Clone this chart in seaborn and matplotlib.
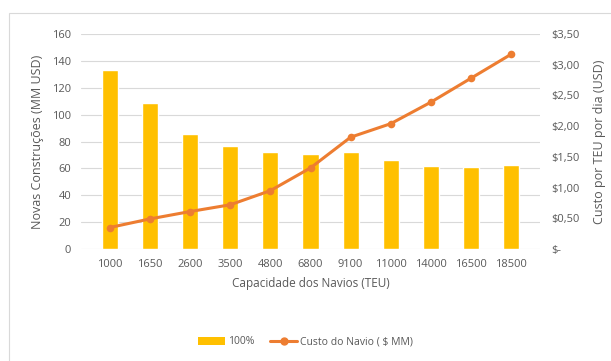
import numpy as np
import pandas as pd
import matplotlib.pyplot as plt
import seaborn as sns
from matplotlib.ticker import FuncFormatter, MultipleLocator
from matplotlib.lines import Line2D
from matplotlib.patches import Patch, Rectangle

# data
capacidade = ['1000', '1650', '2600', '3500', '4800', '6800',
              '9100', '11000', '14000', '16500', '18500']
novas_construcoes = [133.5, 108.5, 85.5, 76.5, 72, 70.5, 72.5, 66.5, 62, 60.8, 62.5]
custo_navio = [0.35, 0.49, 0.61, 0.72, 0.95, 1.32, 1.82, 2.04, 2.39, 2.78, 3.17]

df = pd.DataFrame({'cap': capacidade, 'novas': novas_construcoes, 'custo': custo_navio})

sns.set_style('white')
plt.rcParams['font.family'] = ['Open Sans', 'DejaVu Sans']
gray = '#595959'
bar_color = '#FFC000'
line_color = '#ED7D31'

fig = plt.figure(figsize=(6.11, 3.61), dpi=100)
ax = fig.add_axes([81 / 611, 1 - 249 / 361, 459 / 611, 215 / 361])

sns.barplot(data=df, x='cap', y='novas', color=bar_color, width=0.4,
            saturation=1, ax=ax)
ax.set_ylim(0, 160)
ax.yaxis.set_major_locator(MultipleLocator(20))
ax.grid(axis='y', color='#d9d9d9', linewidth=0.8)
ax.set_axisbelow(True)
for s in ax.spines.values():
    s.set_visible(False)
ax.tick_params(axis='both', colors=gray, labelsize=8, length=0, pad=7)
ax.set_xlabel('Capacidade dos Navios (TEU)', color=gray, fontsize=8.5, labelpad=5)
ax.set_ylabel('Novas Construções (MM USD)', color=gray, fontsize=9, labelpad=6)

ax2 = ax.twinx()
sns.lineplot(data=df, x='cap', y='custo', color=line_color, marker='o',
             markersize=5.5, linewidth=2.2, markeredgewidth=0, ax=ax2)
ax2.set_ylim(0, 3.5)
ax2.yaxis.set_major_locator(MultipleLocator(0.5))
ax2.yaxis.set_major_formatter(FuncFormatter(
    lambda v, p: '$-' if v == 0 else '$' + f'{v:.2f}'.replace('.', ',')))
for s in ax2.spines.values():
    s.set_visible(False)
ax2.tick_params(axis='y', colors=gray, labelsize=8, length=0, pad=8)
ax2.set_ylabel('Custo por TEU por dia (USD)', color=gray, fontsize=9, labelpad=10)
ax2.grid(False)

handles = [Patch(facecolor=bar_color, edgecolor='none'),
           Line2D([0], [0], color=line_color, linewidth=2.2, marker='o', markersize=5)]
fig.legend(handles, ['100%', 'Custo do Navio ( $ MM)'], loc='center',
           bbox_to_anchor=(0.5, 1 - 342 / 361), ncol=2, frameon=False,
           fontsize=7.5, labelcolor=gray, handlelength=2.6, handleheight=0.7,
           columnspacing=1.5, handletextpad=0.3)

fig.patches.append(Rectangle((9 / 611, -0.1), 1.1, 1 - 13 / 361 + 0.1,
                             transform=fig.transFigure, fill=False,
                             edgecolor='#d9d9d9', linewidth=0.8))

fig.savefig('out.png', dpi=100)
